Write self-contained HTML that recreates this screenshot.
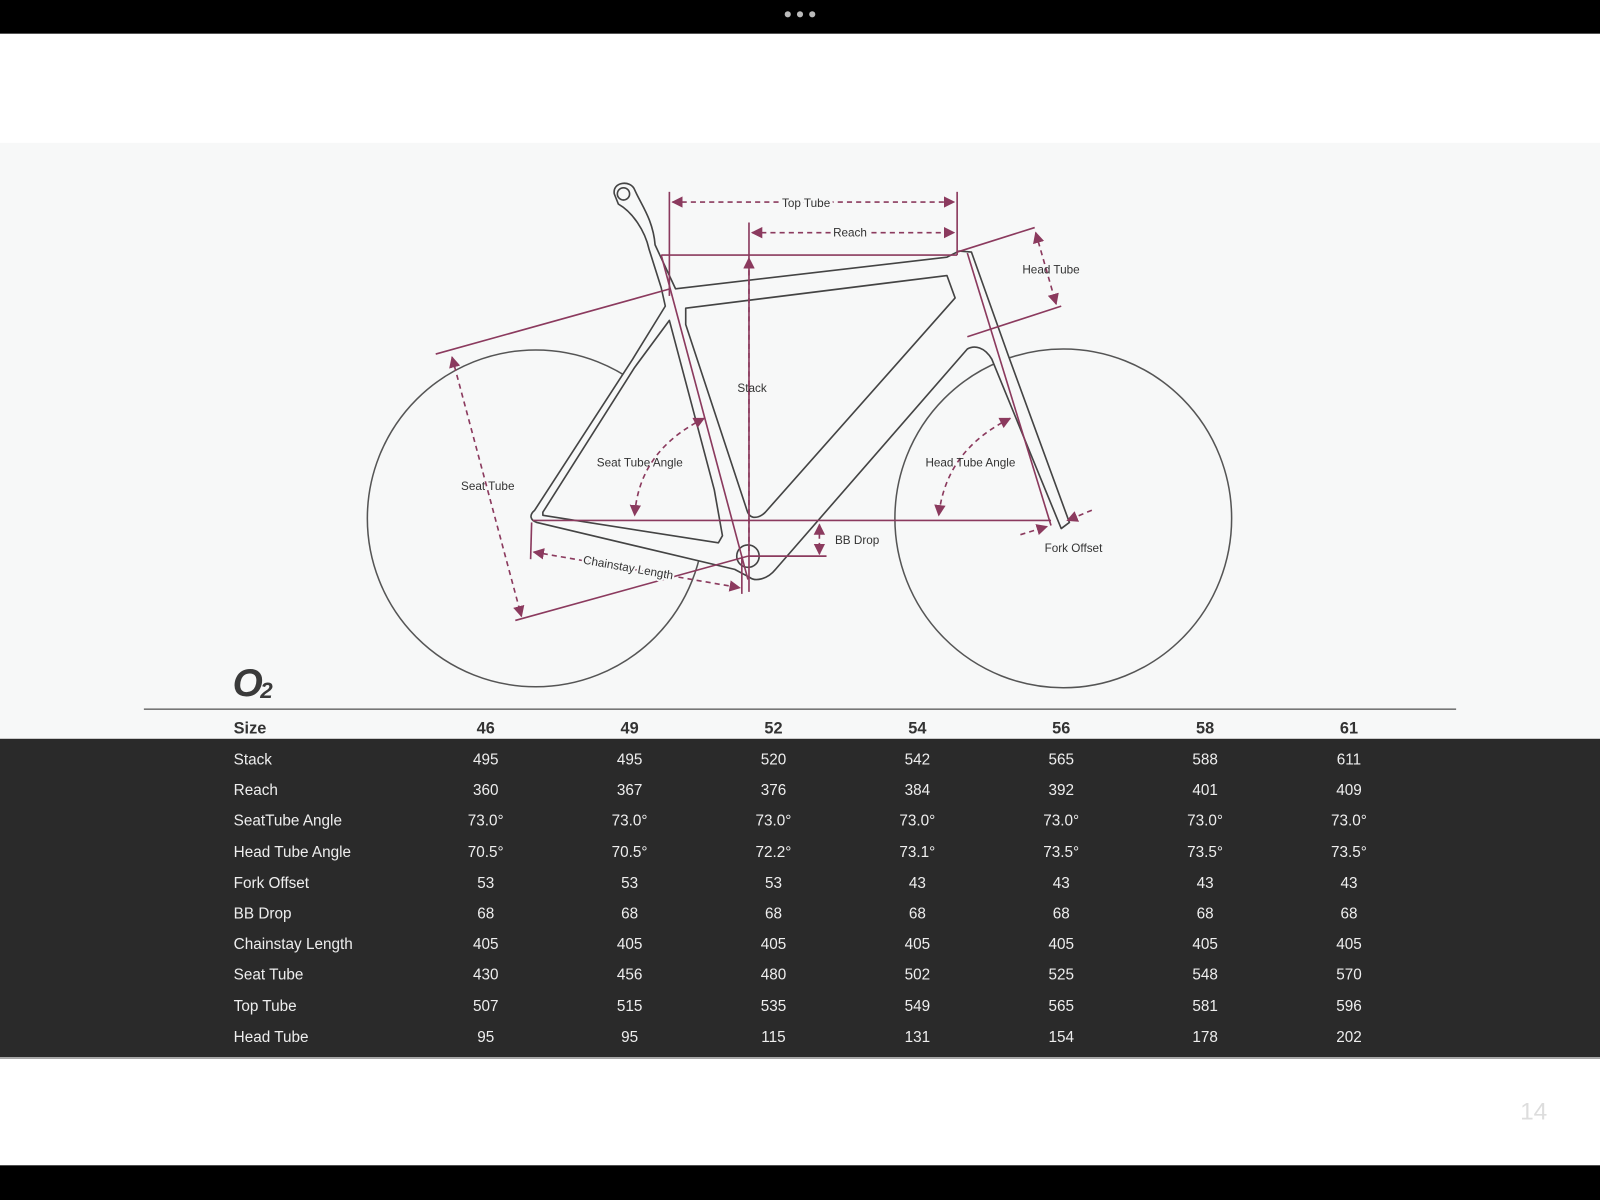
<!DOCTYPE html>
<html><head><meta charset="utf-8"><style>
html,body{margin:0;padding:0;width:1600px;height:1200px;overflow:hidden;background:#fff}
svg{display:block}
</style></head><body>
<svg width="1600" height="1200" viewBox="0 0 1568 1176" xmlns="http://www.w3.org/2000/svg" font-family="Liberation Sans, sans-serif">
<defs>
<marker id="a" viewBox="0 0 10 10" refX="9" refY="5" markerWidth="7" markerHeight="7" orient="auto-start-reverse"><path d="M0,0L10,5L0,10z" fill="#8b3a5e"/></marker>
</defs>
<rect width="1568" height="33" fill="#000"/>
<circle cx="772" cy="14" r="3" fill="#bbb"/><circle cx="784" cy="14" r="3" fill="#bbb"/><circle cx="796" cy="14" r="3" fill="#bbb"/>
<rect y="140" width="1568" height="584" fill="#f7f8f8"/>
<!-- wheels -->
<g fill="none" stroke="#555" stroke-width="1.5">
<ellipse cx="525" cy="508" rx="165" ry="165"/>
<ellipse cx="1042" cy="508" rx="165" ry="166"/>
</g>
<!-- frame -->
<g fill="#f7f8f8" stroke="#444" stroke-width="1.6" stroke-linejoin="round">
<path d="M602,190 C600,178 618,176 622,186 C628,200 640,215 642,240 L662,283 L928,252 L940,246 L952,247 L988,348 L1048,512 L1040,518 L972,352 C965,340 955,338 948,342 L760,558 C752,568 740,570 735,566 L720,558 L526,512 C520,510 518,505 524,500 L620,352 L652,300 L648,282 L636,244 C632,226 620,208 606,200 Z"/>
<path d="M672,302 L928,270 L936,292 L750,502 C744,508 735,510 732,500 L672,318 Z" fill="#f7f8f8"/>
<path d="M532,502 L622,360 L656,314 L700,480 L708,525 L704,532 L532,505 Z"/>
<circle cx="733" cy="545" r="11"/>
<circle cx="611" cy="190" r="6"/>
</g>
<!-- measurement lines -->
<g stroke="#8b3a5e" stroke-width="1.6" fill="none">
<line x1="656" y1="188" x2="656" y2="290"/>
<line x1="938" y1="188" x2="938" y2="250"/>
<line x1="648" y1="250" x2="938" y2="250"/>
<line x1="734" y1="218" x2="734" y2="580"/>
<line x1="648" y1="250" x2="733" y2="568"/>
<line x1="427" y1="347" x2="657" y2="283"/>
<line x1="505" y1="608" x2="733" y2="545"/>
<line x1="938" y1="247" x2="1014" y2="223"/>
<line x1="948" y1="330" x2="1040" y2="300"/>
<line x1="948" y1="248" x2="1030" y2="515"/>
<line x1="522" y1="510" x2="1030" y2="510"/>
<line x1="733" y1="545" x2="810" y2="545"/>
<line x1="521" y1="512" x2="520" y2="548"/>
<line x1="727" y1="545" x2="727" y2="582"/>
</g>
<g stroke="#8b3a5e" stroke-width="1.6" fill="none" stroke-dasharray="5,4" marker-start="url(#a)" marker-end="url(#a)">
<line x1="659" y1="198" x2="935" y2="198"/>
<line x1="737" y1="228" x2="935" y2="228"/>
<line x1="734" y1="540" x2="734" y2="253" marker-start="none"/>
<line x1="443" y1="350" x2="511" y2="604"/>
<line x1="1015" y1="228" x2="1035" y2="298"/>
<line x1="803" y1="514" x2="803" y2="543"/>
<line x1="523" y1="541" x2="725" y2="576"/>
<path d="M690,410 C650,430 625,460 622,505"/>
<path d="M990,410 C950,430 925,460 920,505"/>
<line x1="1000" y1="524" x2="1026" y2="516" marker-start="none"/>
<line x1="1070" y1="500" x2="1046" y2="510" marker-start="none"/>
</g>
<g font-size="11.5" fill="#333" text-anchor="middle">
<text x="790" y="203" fill="#333" style="paint-order:stroke" stroke="#f7f8f8" stroke-width="6">Top Tube</text>
<text x="833" y="232" style="paint-order:stroke" stroke="#f7f8f8" stroke-width="4">Reach</text>
<text x="1030" y="268">Head Tube</text>
<text x="737" y="384">Stack</text>
<text x="627" y="457">Seat Tube Angle</text>
<text x="951" y="457">Head Tube Angle</text>
<text x="478" y="480">Seat Tube</text>
<text x="840" y="533">BB Drop</text>
<text x="1052" y="541">Fork Offset</text>
<text x="615" y="560" transform="rotate(10 615 560)" style="paint-order:stroke" stroke="#f7f8f8" stroke-width="4">Chainstay Length</text>
</g>
<text x="228" y="682" font-size="38" font-weight="bold" font-style="italic" fill="#3a3a3a">O</text>
<text x="255" y="684" font-size="22" font-weight="bold" font-style="italic" fill="#3a3a3a">2</text>
<line x1="141" y1="695" x2="1427" y2="695" stroke="#777" stroke-width="1.5"/>
<g font-size="16" font-weight="bold" fill="#333">
<text x="229" y="719">Size</text>
<g text-anchor="middle"><text x="476" y="719">46</text><text x="617" y="719">49</text><text x="758" y="719">52</text><text x="899" y="719">54</text><text x="1040" y="719">56</text><text x="1181" y="719">58</text><text x="1322" y="719">61</text></g>
</g>
<rect y="724" width="1568" height="312" fill="#2a2a2a"/>
<g font-size="15" fill="#eee">
<g transform="translate(0,749)"><text x="229">Stack</text><g text-anchor="middle"><text x="476">495</text><text x="617">495</text><text x="758">520</text><text x="899">542</text><text x="1040">565</text><text x="1181">588</text><text x="1322">611</text></g></g>
<g transform="translate(0,779)"><text x="229">Reach</text><g text-anchor="middle"><text x="476">360</text><text x="617">367</text><text x="758">376</text><text x="899">384</text><text x="1040">392</text><text x="1181">401</text><text x="1322">409</text></g></g>
<g transform="translate(0,809)"><text x="229">SeatTube Angle</text><g text-anchor="middle"><text x="476">73.0°</text><text x="617">73.0°</text><text x="758">73.0°</text><text x="899">73.0°</text><text x="1040">73.0°</text><text x="1181">73.0°</text><text x="1322">73.0°</text></g></g>
<g transform="translate(0,840)"><text x="229">Head Tube Angle</text><g text-anchor="middle"><text x="476">70.5°</text><text x="617">70.5°</text><text x="758">72.2°</text><text x="899">73.1°</text><text x="1040">73.5°</text><text x="1181">73.5°</text><text x="1322">73.5°</text></g></g>
<g transform="translate(0,870)"><text x="229">Fork Offset</text><g text-anchor="middle"><text x="476">53</text><text x="617">53</text><text x="758">53</text><text x="899">43</text><text x="1040">43</text><text x="1181">43</text><text x="1322">43</text></g></g>
<g transform="translate(0,900)"><text x="229">BB Drop</text><g text-anchor="middle"><text x="476">68</text><text x="617">68</text><text x="758">68</text><text x="899">68</text><text x="1040">68</text><text x="1181">68</text><text x="1322">68</text></g></g>
<g transform="translate(0,930)"><text x="229">Chainstay Length</text><g text-anchor="middle"><text x="476">405</text><text x="617">405</text><text x="758">405</text><text x="899">405</text><text x="1040">405</text><text x="1181">405</text><text x="1322">405</text></g></g>
<g transform="translate(0,960)"><text x="229">Seat Tube</text><g text-anchor="middle"><text x="476">430</text><text x="617">456</text><text x="758">480</text><text x="899">502</text><text x="1040">525</text><text x="1181">548</text><text x="1322">570</text></g></g>
<g transform="translate(0,991)"><text x="229">Top Tube</text><g text-anchor="middle"><text x="476">507</text><text x="617">515</text><text x="758">535</text><text x="899">549</text><text x="1040">565</text><text x="1181">581</text><text x="1322">596</text></g></g>
<g transform="translate(0,1021)"><text x="229">Head Tube</text><g text-anchor="middle"><text x="476">95</text><text x="617">95</text><text x="758">115</text><text x="899">131</text><text x="1040">154</text><text x="1181">178</text><text x="1322">202</text></g></g>
</g>
<line x1="0" y1="1037" x2="1568" y2="1037" stroke="#999" stroke-width="1.5"/>
<text x="1503" y="1097" font-size="24" fill="#ddd" text-anchor="middle">14</text>
<rect y="1142" width="1568" height="34" fill="#000"/>
</svg>
</body></html>
